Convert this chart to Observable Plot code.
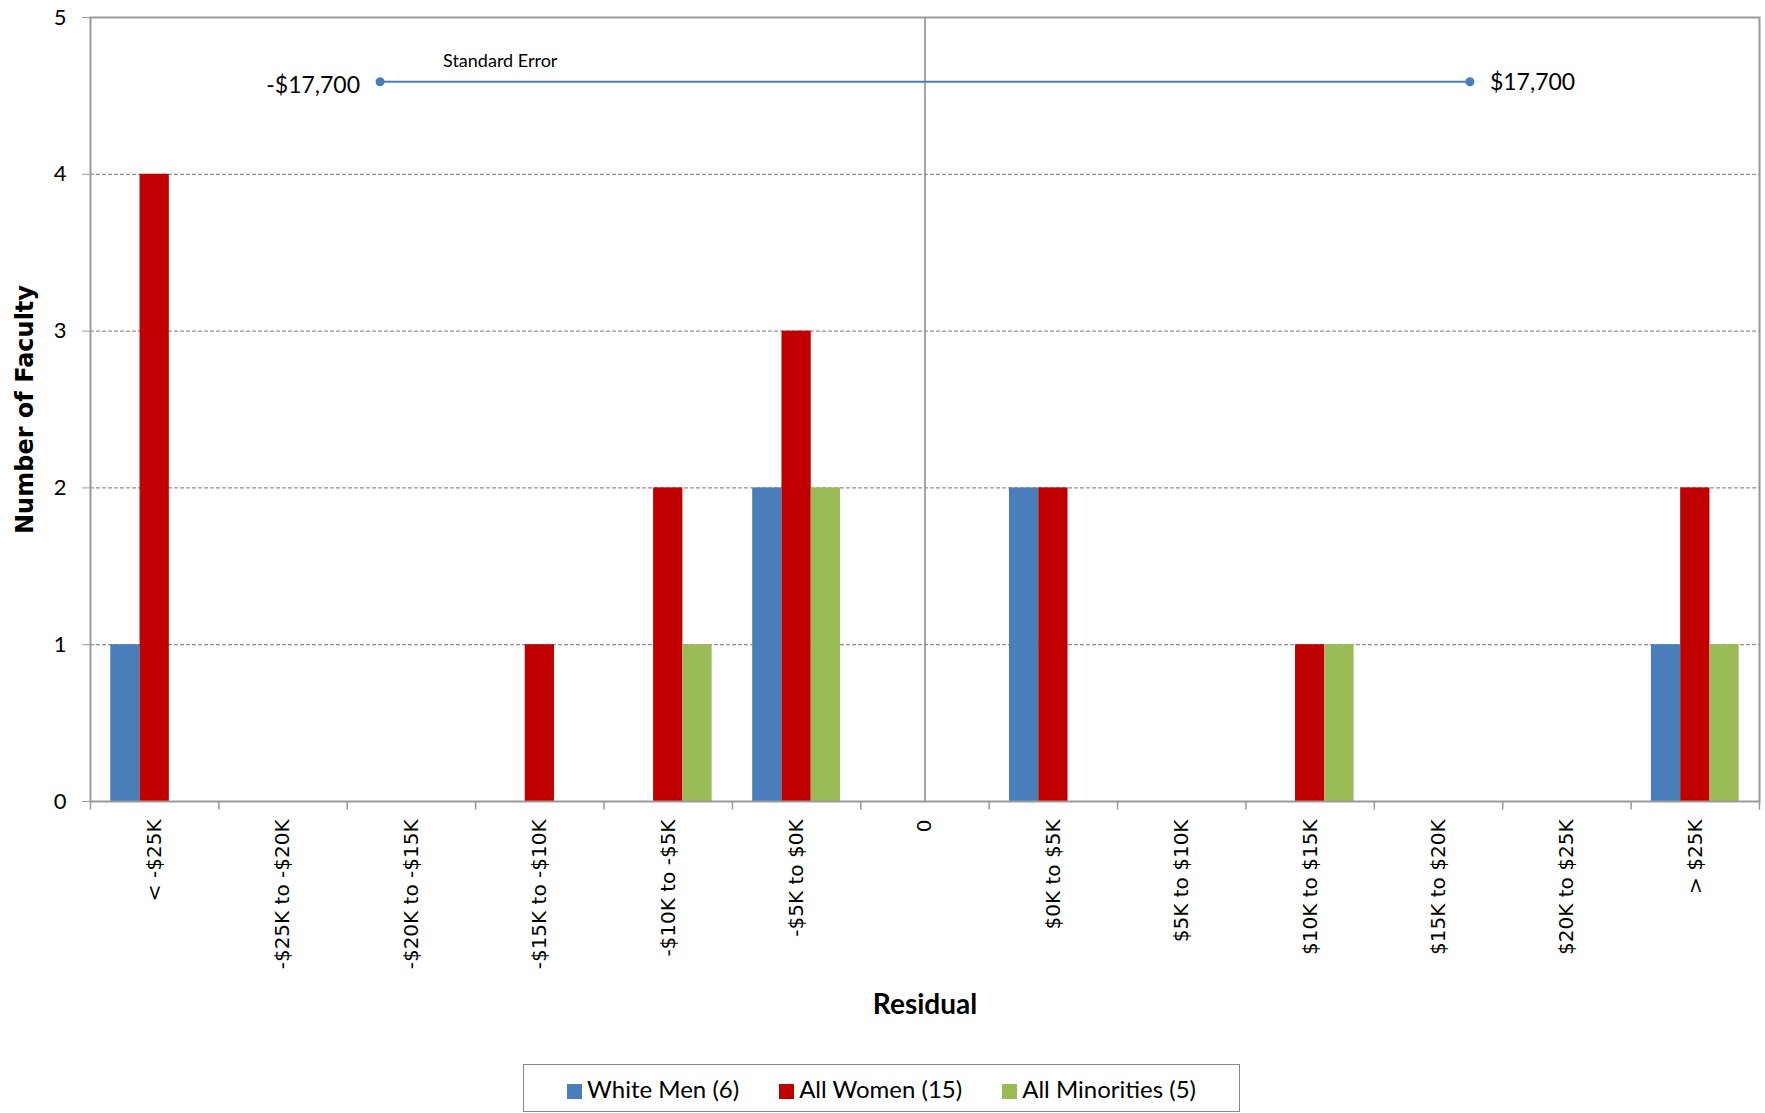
<!DOCTYPE html>
<html>
<head>
<meta charset="utf-8">
<script src="https://cdn.jsdelivr.net/npm/d3@7"></script>
<script src="https://cdn.jsdelivr.net/npm/@observablehq/plot@0.6"></script>
<style>
  body { margin: 0; background: #fff; font-family: Lato, sans-serif; }
  #legend { position: absolute; left: 523px; top: 1064px; width: 717px; height: 48px; border: 1.5px solid #888;
    display: flex; align-items: center; justify-content: center; gap: 40px; font-size: 24px; box-sizing: border-box; }
  #legend span.sw { display: inline-block; width: 15px; height: 15px; margin-right: 5px; vertical-align: -1px; }
</style>
</head>
<body>
<div id="chart"></div>
<div id="legend"></div>
<script>
const categories = ["< -$25K", "-$25K to -$20K", "-$20K to -$15K", "-$15K to -$10K", "-$10K to -$5K", "-$5K to $0K",
  "0", "$0K to $5K", "$5K to $10K", "$10K to $15K", "$15K to $20K", "$20K to $25K", "> $25K"];
const series = ["White Men (6)", "All Women (15)", "All Minorities (5)"];
const colors = ["#4a7ebb", "#c00000", "#9bbb59"];
const whiteMen = [1, 0, 0, 0, 0, 2, 0, 2, 0, 0, 0, 0, 1];
const allWomen = [4, 0, 0, 1, 2, 3, 0, 2, 0, 1, 0, 0, 2];
const allMinorities = [0, 0, 0, 0, 1, 2, 0, 0, 0, 1, 0, 0, 1];
const yTicks = [0, 1, 2, 3, 4, 5];
const standardError = 17700;
const seLevel = 4.59;
const dollarsPerBand = 4170; // how the annotation maps dollars onto category bands
const zeroIndex = categories.indexOf("0");

const barW = 0.228;
const rows = [];
[whiteMen, allWomen, allMinorities].forEach((vals, s) => {
  vals.forEach((v, i) => {
    if (v > 0) rows.push({ i, s, v, x1: i + (s - 1.5) * barW, x2: i + (s - 0.5) * barW });
  });
});
const seX = v => zeroIndex + v / dollarsPerBand;
const seEnds = [-standardError, standardError].map(v => ({ v, x: seX(v), y: seLevel }));
const fmt = d3.format(",");

const chart = Plot.plot({
  width: 1765, height: 1050,
  marginTop: 17, marginBottom: 249, marginLeft: 90, marginRight: 6,
  style: { fontFamily: "Lato, sans-serif", background: "#fff" },
  x: { domain: [-0.5, categories.length - 0.5], axis: null },
  y: { domain: [0, 5], axis: null },
  marks: [
    Plot.gridY([1, 2, 3, 4], { stroke: "#777", strokeOpacity: 1, strokeDasharray: "4,2", strokeWidth: 1 }),
    Plot.ruleX([zeroIndex], { stroke: "#888", strokeWidth: 1.5 }),
    Plot.rectY(rows, { x1: "x1", x2: "x2", y: "v", fill: d => colors[d.s] }),
    Plot.frame({ stroke: "#999", strokeWidth: 2 }),
    Plot.ruleX(d3.range(categories.length + 1), { x: d => d - 0.5, y1: 0, y2: -0.055, stroke: "#999", strokeWidth: 1.5 }),
    Plot.axisX(d3.range(categories.length), { tickFormat: i => categories[i], tickRotate: -90, textAnchor: "end",
      tickSize: 0, tickPadding: 18, fontSize: 20, fontFamily: "DejaVu Sans", fill: "#000" }),
    Plot.axisY(yTicks, { tickFormat: "d", tickSize: 8, tickPadding: 16, fontSize: 22, fill: "#000", stroke: "#999" }),
    Plot.text(["Number of Faculty"], { frameAnchor: "left", dx: -65, rotate: -90, textAnchor: "middle",
      fontSize: 24, fontWeight: "bold", fontFamily: "DejaVu Sans", fill: "#000" }),
    Plot.text(["Residual"], { frameAnchor: "bottom", dy: 212, fontSize: 28, fontWeight: "bold", fill: "#000" }),
    Plot.link([seEnds], { x1: d => d[0].x, x2: d => d[1].x, y1: seLevel, y2: seLevel, stroke: "#4a7ebb", strokeWidth: 2 }),
    Plot.dot(seEnds, { x: "x", y: "y", r: 4.5, fill: "#4a7ebb" }),
    Plot.text(seEnds.slice(0, 1), { x: "x", y: "y", text: d => "-$" + fmt(-d.v), textAnchor: "end", dx: -20, dy: 4, fontSize: 23, fill: "#000" }),
    Plot.text(seEnds.slice(1), { x: "x", y: "y", text: d => "$" + fmt(d.v), textAnchor: "start", dx: 20, dy: 1, fontSize: 23, fill: "#000" }),
    Plot.text(seEnds.slice(0, 1), { x: "x", y: "y", text: () => "Standard Error", textAnchor: "start", dx: 63, dy: -21, fontSize: 18, fill: "#000" })
  ]
});
document.getElementById("chart").append(chart);

const legend = document.getElementById("legend");
series.forEach((s, k) => {
  const el = document.createElement("div");
  el.innerHTML = `<span class="sw" style="background:${colors[k]}"></span>${s}`;
  legend.append(el);
});
</script>
</body>
</html>
